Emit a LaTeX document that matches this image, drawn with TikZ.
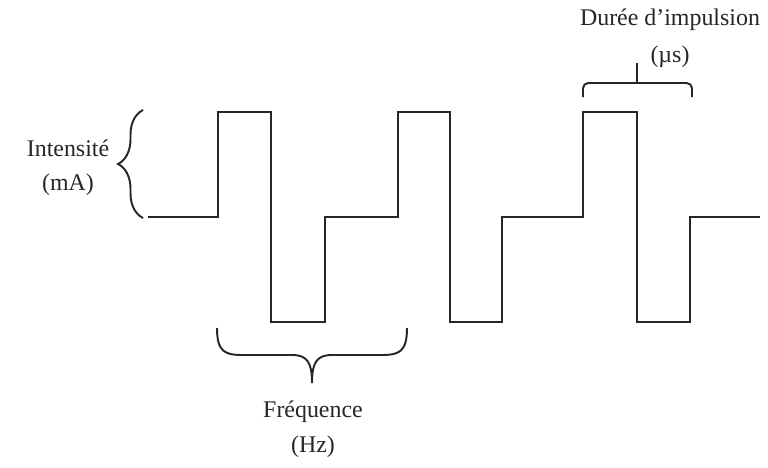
\documentclass[tikz,border=0pt]{standalone}
\usepackage{fontspec}
\setmainfont{Liberation Serif}
\usepackage{tikz}
\usetikzlibrary{decorations.pathreplacing}

\begin{document}
\begin{tikzpicture}[line join=miter,
    signal/.style={line width=1.6pt, black!85},
    trait/.style={line width=1.1pt, black!85},
    accolade/.style={trait, decorate, decoration={brace, amplitude=#1}},
    legende/.style={font=\fontsize{13.6}{16}\selectfont, inner sep=0pt, black!85}]
  \useasboundingbox (0,0) rectangle (15.36,9.34);

  % Levels of the signal
  \def\base{5.0}
  \def\haut{7.1}
  \def\bas{2.9}

  % Signal (two-level pulses)
  \draw[signal] (2.96,\base) -- (4.36,\base) -- (4.36,\haut) -- (5.42,\haut)
    -- (5.42,\bas) -- (6.5,\bas) -- (6.5,\base) -- (7.96,\base)
    -- (7.96,\haut) -- (9.0,\haut) -- (9.0,\bas) -- (10.04,\bas)
    -- (10.04,\base) -- (11.66,\base) -- (11.66,\haut) -- (12.74,\haut)
    -- (12.74,\bas) -- (13.8,\bas) -- (13.8,\base) -- (15.2,\base);

  % Intensity brace
  \coordinate (I1) at (2.86,4.98);
  \coordinate (I2) at (2.86,7.14);
  \draw[accolade=0.5cm] (I1) -- (I2);
  \node[legende] (intens) at (1.36,6.38) {Intensité};
  \node[legende] (mA) at (1.36,5.64) {(mA)};

  % Pulse width bracket
  \coordinate (D1) at (11.66,7.4);
  \coordinate (D2) at (13.84,7.4);
  \coordinate (Dm) at (12.74,7.68);
  \draw[trait, rounded corners=3pt] (D1) -- (11.66,7.68) -- (13.84,7.68) -- (D2);
  \draw[trait] (Dm) -- ++(0,0.4);
  \node[legende] (duree) at (13.4,8.94) {Durée d’impulsion};
  \node[legende] (mus) at (13.4,8.2) {(µs)};

  % Frequency brace
  \coordinate (F1) at (4.34,2.78);
  \coordinate (F2) at (8.14,2.78);
  \coordinate (Fm) at (6.24,1.68);
  \draw[trait] (F1) .. controls (4.34,2.3) and (4.5,2.24) .. (4.85,2.24)
    -- (5.84,2.24) .. controls (6.14,2.24) and (6.24,2.1) .. (Fm)
    .. controls (6.24,2.1) and (6.34,2.24) .. (6.64,2.24)
    -- (7.63,2.24) .. controls (7.98,2.24) and (8.14,2.3) .. (F2);
  \node[legende] (freq) at (6.26,1.1) {Fréquence};
  \node[legende] (hz) at (6.26,0.4) {(Hz)};
\end{tikzpicture}
\end{document}
